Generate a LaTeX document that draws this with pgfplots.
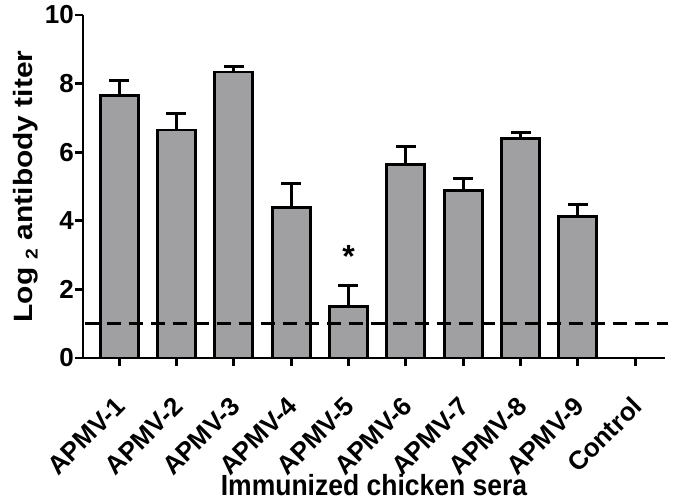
\documentclass[border=0pt]{standalone}
\usepackage{pgfplots}
\pgfplotsset{compat=1.18}
\usepackage{fontspec}
\setmainfont{Liberation Sans}
\definecolor{barfill}{HTML}{A0A0A2}

\begin{document}
\begin{tikzpicture}
\begin{axis}[
  scale only axis,
  width=582pt, height=343pt,
  xmin=-0.63, xmax=9.52,
  ymin=0, ymax=10,
  axis lines=left,
  axis line style={line width=2.8pt, -},
  xtick={0,...,9},
  xticklabels={APMV-1,APMV-2,APMV-3,APMV-4,APMV-5,APMV-6,APMV-7,APMV-8,APMV-9,Control},
  ytick={0,2,4,6,8,10},
  tick align=outside,
  major tick length=8pt,
  tick style={line width=2.8pt, black},
  /pgf/number format/assume math mode=true,
  xticklabel style={rotate=45, anchor=north east, inner sep=0pt,
    xshift=-24pt, yshift=-17pt,
    font=\bfseries\fontsize{26}{28}\selectfont},
  yticklabel style={font=\bfseries\fontsize{26}{28}\selectfont, inner sep=1pt},
  xlabel={\scalebox{1}[1.1]{Immunized chicken sera}},
  ylabel={\scalebox{1.13}[1]{Log \raisebox{-0.35ex}{\fontsize{17}{17}\selectfont 2} antibody titer}},
  label style={font=\bfseries\fontsize{26.5}{28}\selectfont},
  xlabel style={at={(axis description cs:0.5,0)}, anchor=base, yshift=-137pt},
  ylabel style={yshift=2pt},
  clip=false,
]
\addplot[ybar, bar width=38pt, fill=barfill, draw=black, line width=2.8pt,
  error bars/.cd, y dir=plus, y explicit,
  error bar style={line width=2.8pt, black},
  error mark options={rotate=90, mark size=10pt, line width=2.8pt, black}]
  coordinates {
  (0,7.65) +- (0,0.43)
  (1,6.65) +- (0,0.47)
  (2,8.34) +- (0,0.15)
  (3,4.39) +- (0,0.70)
  (4,1.51) +- (0,0.61)
  (5,5.64) +- (0,0.52)
  (6,4.88) +- (0,0.35)
  (7,6.40) +- (0,0.17)
  (8,4.13) +- (0,0.35)
};
\addplot[black, line width=2.8pt, dash pattern=on 14pt off 8pt]
  coordinates {(-0.60,1) (9.58,1)};
\node[font=\bfseries\fontsize{32}{32}\selectfont] at (axis cs:4,2.95) {*};
\end{axis}
\pgfresetboundingbox
\path ([xshift=-83pt,yshift=-144pt]current axis.south west)
  rectangle ([xshift=8pt,yshift=15pt]current axis.north east);
\end{tikzpicture}
\end{document}
